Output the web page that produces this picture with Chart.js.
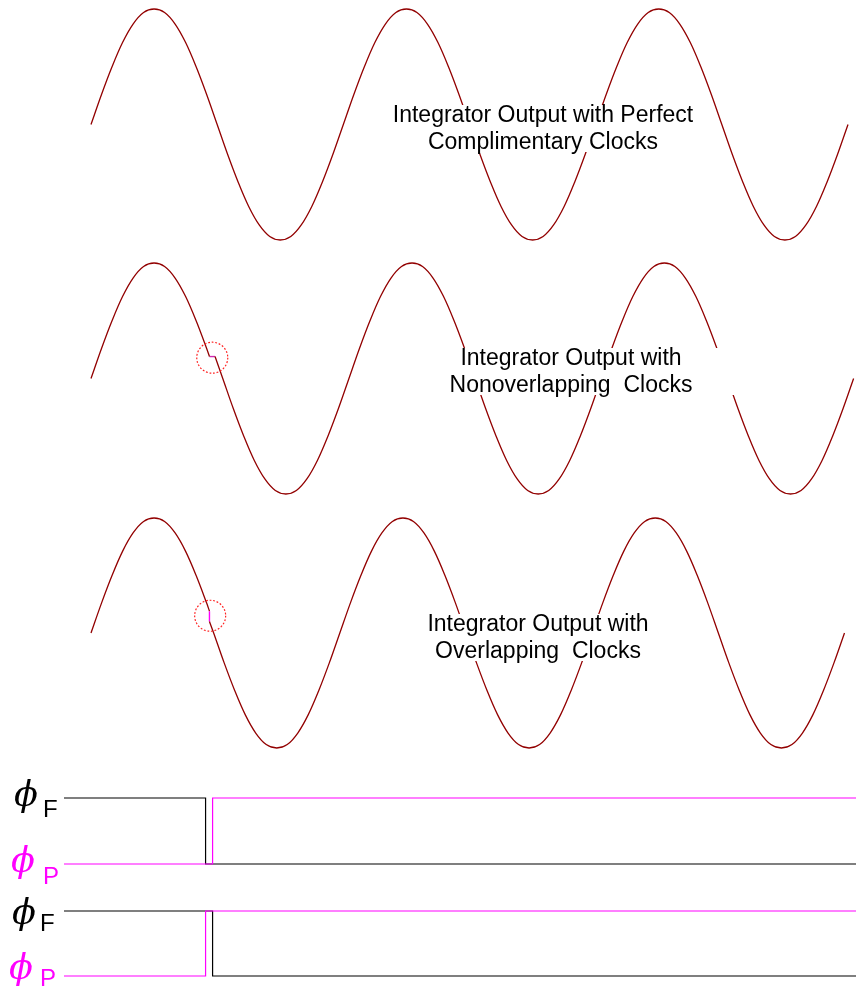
<!DOCTYPE html>
<html>
<head>
<meta charset="utf-8">
<script src="https://cdn.jsdelivr.net/npm/chart.js@4.4.1/dist/chart.umd.min.js"></script>
<style>
  body { margin: 0; background: #fff; width: 856px; height: 987px; position: relative; overflow: hidden;
         font-family: "Liberation Sans", Arial, sans-serif; }
  canvas { position: absolute; left: 0; }
  .note { position: absolute; background: #fff; text-align: center; font-size: 23px; line-height: 27px;
          color: #000; white-space: pre; }
  .note span { position: relative; top: -4px; }
  .phi { position: absolute; font-family: "DejaVu Serif", serif; font-style: italic; font-size: 35px; line-height: 1; }
  .sub { position: absolute; font-size: 24px; line-height: 1; }
</style>
</head>
<body>

<canvas id="wave1" width="856" height="250" style="top:0px"></canvas>
<canvas id="wave2" width="856" height="250" style="top:254px"></canvas>
<canvas id="wave3" width="856" height="250" style="top:509px"></canvas>
<canvas id="clockA" width="856" height="100" style="top:780px"></canvas>
<canvas id="clockB" width="856" height="92" style="top:895px"></canvas>

<div class="note" style="left:388px; top:105px; width:310px; height:47px"><span>Integrator Output with Perfect
Complimentary Clocks</span></div>
<div class="note" style="left:405px; top:348px; width:332px; height:47px"><span>Integrator Output with
Nonoverlapping  Clocks</span></div>
<div class="note" style="left:420px; top:614px; width:236px; height:47px"><span>Integrator Output with
Overlapping  Clocks</span></div>

<div class="phi" style="left:14px; top:777px">&#x3D5;</div>
<div class="sub" style="left:43px; top:797px">F</div>
<div class="phi" style="left:11px; top:843px; color:#ff00ff">&#x3D5;</div>
<div class="sub" style="left:43px; top:864px; color:#ff00ff">P</div>
<div class="phi" style="left:12px; top:895px">&#x3D5;</div>
<div class="sub" style="left:40px; top:911px">F</div>
<div class="phi" style="left:9px; top:950px; color:#ff00ff">&#x3D5;</div>
<div class="sub" style="left:40px; top:966px; color:#ff00ff">P</div>

<script>
// integrator output, sampled every 15 degrees over three periods
var waveDeg = [0, 15, 30, 45, 60, 75, 90, 105, 120, 135, 150, 165,
    180, 195, 210, 225, 240, 255, 270, 285, 300, 315, 330, 345,
    360, 375, 390, 405, 420, 435, 450, 465, 480, 495, 510, 525,
    540, 555, 570, 585, 600, 615, 630, 645, 660, 675, 690, 705,
    720, 735, 750, 765, 780, 795, 810, 825, 840, 855, 870, 885,
    900, 915, 930, 945, 960, 975, 990, 1005, 1020, 1035, 1050, 1065, 1080];
var waveLevel = [0, 0.26, 0.5, 0.71, 0.87, 0.97, 1, 0.97, 0.87, 0.71, 0.5, 0.26,
    0, -0.26, -0.5, -0.71, -0.87, -0.97, -1, -0.97, -0.87, -0.71, -0.5, -0.26,
    0, 0.26, 0.5, 0.71, 0.87, 0.97, 1, 0.97, 0.87, 0.71, 0.5, 0.26,
    0, -0.26, -0.5, -0.71, -0.87, -0.97, -1, -0.97, -0.87, -0.71, -0.5, -0.26,
    0, 0.26, 0.5, 0.71, 0.87, 0.97, 1, 0.97, 0.87, 0.71, 0.5, 0.26,
    0, -0.26, -0.5, -0.71, -0.87, -0.97, -1, -0.97, -0.87, -0.71, -0.5, -0.26, 0];

// clock-edge glitch on the falling slope
var glitchDeg = 169;
var glitchLevel = 0.19;
var holdDeg = [169, 177];        // nonoverlapping: output holds
var holdLevel = [0.19, 0.19];
var dropDeg = [169, 169];        // overlapping: output jumps
var dropLevel = [0.19, 0.10];
var resumeDeg = 174;             // overlapping: where the wave picks up again
var resumeLevel = 0.10;

// clocks: time in the same degrees, high = 1, low = 0
var clockEarly = [-38, 164, 164, 1092];
var clockLate = [-38, 174, 174, 1092];
var fallLevels = [1, 1, 0, 0];
var riseLevels = [0, 0, 1, 1];

var WAVE = '#920000';
var MAG = '#ff00ff';

function pts(xs, ys) {
    return xs.map(function (x, i) { return { x: x, y: ys[i] }; });
}

var head = pts(waveDeg.slice(0, 12), waveLevel.slice(0, 12)).concat([{ x: glitchDeg, y: glitchLevel }]);
var tail = pts(waveDeg.slice(12), waveLevel.slice(12));

function line(data, color, axis, width, tension) {
    return {
        data: data, borderColor: color, borderWidth: width || 1.3, pointRadius: 0,
        fill: false, tension: tension || 0, clip: false, xAxisID: axis || 'x'
    };
}

// dotted circle round the glitch
var ringPlugin = {
    id: 'ring',
    afterDatasetsDraw: function (chart, args, opts) {
        if (!opts.at) return;
        var c = chart.ctx;
        var cx = chart.scales.x.getPixelForValue(opts.at[0]);
        var cy = chart.scales.y.getPixelForValue(opts.at[1]);
        c.save();
        c.strokeStyle = '#ff2020';
        c.lineWidth = 1.2;
        c.setLineDash([1.8, 1.8]);
        c.beginPath();
        c.arc(cx, cy, 15.5, 0, Math.PI * 2);
        c.stroke();
        c.restore();
    }
};
Chart.register(ringPlugin);

function waveChart(id, datasets, extraX, ring, pad) {
    var scales = {
        x: { type: 'linear', min: 0, max: 1080, display: false },
        y: { type: 'linear', min: -1, max: 1, display: false }
    };
    if (extraX) scales[extraX.id] = { type: 'linear', min: extraX.min, max: extraX.max, display: false };
    return new Chart(document.getElementById(id), {
        type: 'line',
        data: { datasets: datasets },
        options: {
            responsive: false,
            animation: false,
            layout: { padding: pad },
            plugins: { legend: { display: false }, tooltip: { enabled: false }, ring: { at: ring } },
            scales: scales
        }
    });
}

var SMOOTH = 0.35;

waveChart('wave1', [line(pts(waveDeg, waveLevel), WAVE, 'x', 1.3, SMOOTH)], null, null,
    { left: 91, right: 8, top: 9, bottom: 10 });

waveChart('wave2', [
    line(head, WAVE, 'x', 1.3, SMOOTH),
    line([{ x: glitchDeg, y: glitchLevel }].concat(tail), WAVE, 'xLag', 1.3, SMOOTH),
    line(pts(holdDeg, holdLevel), '#d02ab0', 'x', 1.4)
], { id: 'xLag', min: -8, max: 1072 }, [173, 0.18],
    { left: 91, right: 8, top: 9, bottom: 10 });

waveChart('wave3', [
    line(head, WAVE, 'x', 1.3, SMOOTH),
    line([{ x: resumeDeg, y: resumeLevel }].concat(tail), WAVE, 'xLead', 1.3, SMOOTH),
    line(pts(dropDeg, dropLevel), MAG, 'x', 1.4)
], { id: 'xLead', min: 5, max: 1085 }, [170, 0.15],
    { left: 91, right: 8, top: 9, bottom: 11 });

function clockChart(id, fData, pData, pad) {
    return new Chart(document.getElementById(id), {
        type: 'line',
        data: {
            datasets: [
                line(pData, MAG, 'x', 1.2),
                line(fData, '#000000', 'x', 1.2)
            ]
        },
        options: {
            responsive: false,
            animation: false,
            layout: { padding: pad },
            plugins: { legend: { display: false }, tooltip: { enabled: false } },
            scales: {
                x: { type: 'linear', min: -38, max: 1092, display: false },
                y: { type: 'linear', min: 0, max: 1, display: false }
            }
        }
    });
}

// nonoverlapping: F falls, then P rises
clockChart('clockA', pts(clockEarly, fallLevels), pts(clockLate, riseLevels),
    { left: 64, right: 0, top: 18, bottom: 16 });
// overlapping: P rises, then F falls
clockChart('clockB', pts(clockLate, fallLevels), pts(clockEarly, riseLevels),
    { left: 64, right: 0, top: 16, bottom: 11 });
</script>
</body>
</html>
